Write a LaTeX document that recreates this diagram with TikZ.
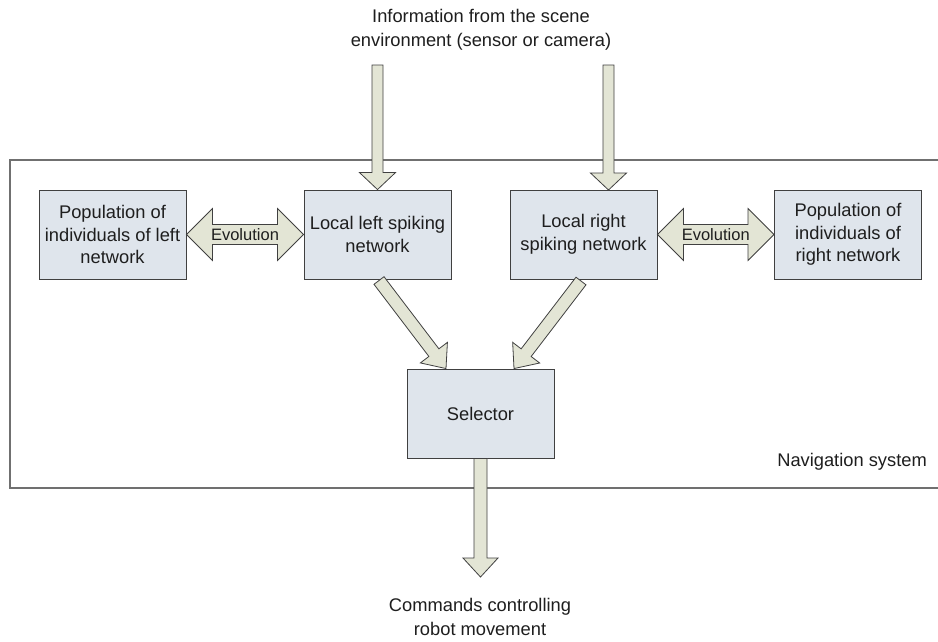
\documentclass[tikz,border=0pt]{standalone}
\usepackage{fontspec}
\setmainfont{Liberation Sans}
\usetikzlibrary{calc}
\definecolor{boxfill}{HTML}{DFE5EC}
\definecolor{arrfill}{HTML}{E3E5D5}
\definecolor{edgec}{HTML}{404040}
\definecolor{framec}{HTML}{707070}
\definecolor{txtc}{HTML}{1E1E1E}
\tikzset{
  blk/.style={draw=edgec, line width=0.9pt, fill=boxfill, minimum width=147pt, minimum height=89pt,
    inner sep=0pt, align=center, text=txtc, font=\fontsize{18.3}{22.5}\selectfont},
  lbl/.style={align=center, text=txtc, font=\fontsize{18.3}{23.5}\selectfont, inner sep=0pt},
  evo/.style={text=txtc, font=\fontsize{16.5}{20}\selectfont, inner sep=0pt},
  arrowstyle/.style={draw=edgec, line width=0.8pt, fill=arrfill, line join=miter},
}
\newcommand\blockarrow[5]{%
  \coordinate (hb) at ($(#2)!#5!(#1)$);
  \filldraw[arrowstyle] ($(#1)!#3!90:(#2)$) -- ($(hb)!#3!90:(#2)$) -- ($(hb)!#4!90:(#2)$) -- (#2)
    -- ($(hb)!#4!-90:(#2)$) -- ($(hb)!#3!-90:(#2)$) -- ($(#1)!#3!-90:(#2)$) -- cycle;}
\newcommand\dblarrow[5]{%
  \coordinate (ha) at ($(#1)!#5!(#2)$);
  \coordinate (hb) at ($(#2)!#5!(#1)$);
  \filldraw[arrowstyle] (#1) -- ($(ha)!#4!90:(#2)$) -- ($(ha)!#3!90:(#2)$) -- ($(hb)!#3!-90:(#1)$)
    -- ($(hb)!#4!-90:(#1)$) -- (#2) -- ($(hb)!#4!90:(#1)$) -- ($(hb)!#3!90:(#1)$)
    -- ($(ha)!#3!-90:(#2)$) -- ($(ha)!#4!-90:(#2)$) -- cycle;}
\begin{document}
\begin{tikzpicture}[x=1pt, y=-1pt]
\useasboundingbox (0,0) rectangle (938,641);
\fill[white] (0,0) rectangle (938,641);
% frame
\draw[framec, line width=1.1pt] (938,160) -- (10,160) -- (10,488) -- (938,488);
\node[lbl, anchor=south east] (nav) at (927,470) {Navigation system};
% texts
\node[lbl] (info) at (481,30) {Information from the scene\\environment (sensor or camera)};
\node[lbl] (cmd) at (480,617) {Commands controlling\\robot movement};
% boxes
\node[blk] (lp) at (112.5,234.5) {Population of\\individuals of left\\network};
\node[blk] (ll) at (377.5,234.5) {Local left spiking\\network};
\node[blk] (lr) at (583.5,234.5) {Local right\\spiking network};
\node[blk] (rp) at (848,234.5) {Population of\\individuals of\\right network};
\node[blk] (sel) at (480.5,413.5) {Selector};
% input arrows
\coordinate (inL) at (377.5,65);
\coordinate (inR) at (608.5,65);
\coordinate (inRend) at (608.5,190);
\blockarrow{inL}{ll.north}{5.5pt}{18pt}{17pt}
\blockarrow{inR}{inRend}{5.5pt}{18pt}{17pt}
% diagonal arrows
\coordinate (dlS) at (379,280.5);
\coordinate (dlE) at ($(sel.north)+(-34.5,0)$);
\coordinate (drS) at (581,281);
\coordinate (drE) at ($(sel.north)+(33.5,0)$);
\blockarrow{dlS}{dlE}{6.3pt}{17pt}{20pt}
\blockarrow{drS}{drE}{6.3pt}{17pt}{20pt}
% output arrow
\coordinate (outE) at (480.5,577);
\blockarrow{sel.south}{outE}{6.5pt}{17.5pt}{19pt}
% evolution arrows
\dblarrow{lp.east}{ll.west}{10pt}{26pt}{26pt}
\node[evo] (evL) at ($(lp.east)!0.5!(ll.west)$) {Evolution};
\dblarrow{lr.east}{rp.west}{10pt}{26pt}{26pt}
\node[evo] (evR) at ($(lr.east)!0.5!(rp.west)$) {Evolution};
\end{tikzpicture}
\end{document}
